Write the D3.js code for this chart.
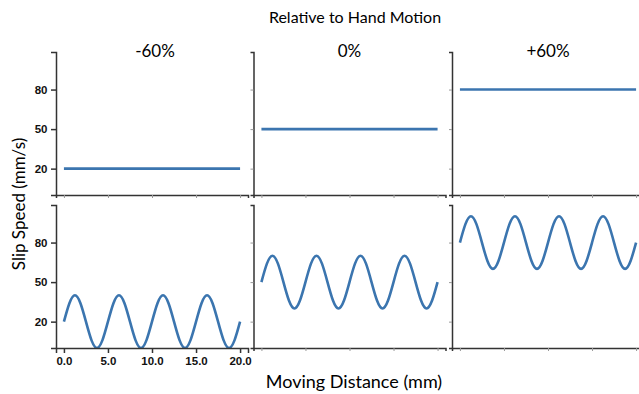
<!DOCTYPE html>
<html>
<head>
<meta charset="utf-8">
<script src="https://cdn.jsdelivr.net/npm/d3@7"></script>
<style>
body { margin: 0; background: #fff; }
svg { font-family: Lato, "Open Sans", sans-serif; }
.axis path, .axis line { stroke: #333; stroke-width: 1.5; }
.axis.faint line { stroke: #999; stroke-width: 1; }
.axis text { font-size: 11.5px; font-weight: bold; fill: #111; }
</style>
</head>
<body>
<svg id="chart" width="639" height="394"></svg>
<script>
var columns = ["-60%", "0%", "+60%"];
var yTicks = [20, 50, 80];
var xTicks = [0, 5, 10, 15, 20];

// steady slip speed in the top row
var steadySpeed = [20, 50, 80];

// distance samples (mm) for the oscillating row
var distance = [0, 0.625, 1.25, 1.875, 2.5, 3.125, 3.75, 4.375, 5, 5.625, 6.25, 6.875, 7.5, 8.125, 8.75, 9.375,
	10, 10.625, 11.25, 11.875, 12.5, 13.125, 13.75, 14.375, 15, 15.625, 16.25, 16.875, 17.5, 18.125, 18.75, 19.375, 20];
var speedMinus60 = [20, 34, 40, 34, 20, 6, 0, 6, 20, 34, 40, 34, 20, 6, 0, 6,
	20, 34, 40, 34, 20, 6, 0, 6, 20, 34, 40, 34, 20, 6, 0, 6, 20];
var speedZero = [50, 64, 70, 64, 50, 36, 30, 36, 50, 64, 70, 64, 50, 36, 30, 36,
	50, 64, 70, 64, 50, 36, 30, 36, 50, 64, 70, 64, 50, 36, 30, 36, 50];
var speedPlus60 = [80, 94, 100, 94, 80, 66, 60, 66, 80, 94, 100, 94, 80, 66, 60, 66,
	80, 94, 100, 94, 80, 66, 60, 66, 80, 94, 100, 94, 80, 66, 60, 66, 80];
var waves = [speedMinus60, speedZero, speedPlus60];

var svg = d3.select("#chart");
var colLeft = [56, 253.5, 452];
var panelW = 192;
var rowTop = [52, 205];
var panelH = 143;

var y = d3.scaleLinear().domain([0, 108.5]).range([panelH, 0]);

svg.append("defs").append("clipPath").attr("id", "clip")
	.append("rect").attr("x", 0).attr("y", 0).attr("width", panelW).attr("height", panelH);

var line = d3.line()
	.x(function(d){ return d.x; })
	.y(function(d){ return d.y; })
	.curve(d3.curveNatural);

for (var r = 0; r < 2; r++) {
	for (var c = 0; c < 3; c++) {
		var x = d3.scaleLinear().domain([-0.9, 20.9]).range([0, panelW]);
		var g = svg.append("g").attr("transform", "translate(" + colLeft[c] + "," + rowTop[r] + ")");

		var pts;
		if (r == 0) {
			pts = [{x: x(0), y: y(steadySpeed[c])}, {x: x(20), y: y(steadySpeed[c])}];
		} else {
			pts = distance.map(function(d, i){ return {x: x(d), y: y(waves[c][i])}; });
		}
		g.append("path")
			.attr("clip-path", "url(#clip)")
			.attr("d", line(pts))
			.attr("fill", "none")
			.attr("stroke", "#3b75af")
			.attr("stroke-width", 2.6);

		var showX = (r == 1 && c == 0);
		var xa = d3.axisBottom(x).tickValues(xTicks).tickSizeOuter(0)
			.tickSize(showX ? 5 : 3)
			.tickFormat(showX ? d3.format(".1f") : "");
		g.append("g").attr("class", "axis" + (showX ? "" : " faint"))
			.attr("transform", "translate(0," + panelH + ")")
			.call(xa)
			.selectAll("text").attr("dy", "0.75em");

		var showY = (c == 0);
		var ya = d3.axisLeft(y).tickValues(yTicks).tickSizeOuter(0)
			.tickSize(showY ? 5 : 3)
			.tickFormat(showY ? d3.format("d") : "");
		g.append("g").attr("class", "axis" + (showY ? "" : " faint"))
			.call(ya)
			.selectAll("text").attr("dx", "-0.05em");
	}
}

// column headers
svg.selectAll(".col-title")
	.data(columns)
	.enter().append("text")
	.attr("class", "col-title")
	.attr("x", function(d, i){ return colLeft[i] + panelW / 2 + (i == 0 ? 3 : 0); })
	.attr("y", 57)
	.attr("text-anchor", "middle")
	.style("font-size", "17px")
	.text(function(d){ return d; });

svg.append("text")
	.attr("x", 355).attr("y", 23)
	.attr("text-anchor", "middle")
	.style("font-size", "16px")
	.text("Relative to Hand Motion");

svg.append("text")
	.attr("x", 354).attr("y", 388)
	.attr("text-anchor", "middle")
	.style("font-size", "18px")
	.text("Moving Distance (mm)");

svg.append("text")
	.attr("transform", "translate(25,204) rotate(-90)")
	.attr("text-anchor", "middle")
	.style("font-size", "17px")
	.text("Slip Speed (mm/s)");
</script>
</body>
</html>
